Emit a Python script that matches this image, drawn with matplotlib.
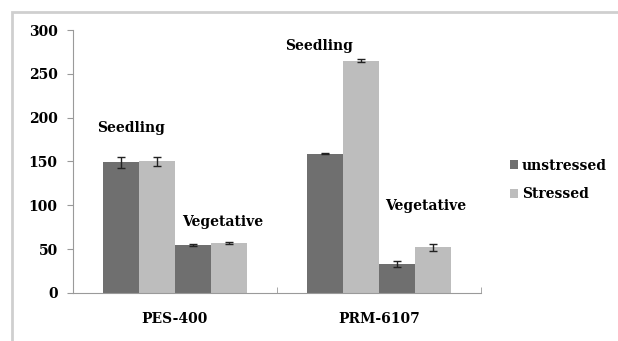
import numpy as np
import matplotlib.pyplot as plt
from matplotlib.patches import Rectangle

# Genotypes and growth stages
genotypes = ["PES-400", "PRM-6107"]
stages = ["Seedling", "Vegetative"]

# Mean values: [seedling, vegetative] for each genotype
unstressed_seedling = [149, 159]
stressed_seedling = [150, 265]
unstressed_veg = [55, 33]
stressed_veg = [57, 52]

# Standard errors
err_unstressed_seedling = [6, 0.5]
err_stressed_seedling = [5, 2]
err_unstressed_veg = [1, 3]
err_stressed_veg = [1, 4]

dark = "#6f6f6f"
light = "#bdbdbd"

plt.rcParams["font.family"] = ["DejaVu Serif"]
plt.rcParams["font.weight"] = "bold"

fig = plt.figure(figsize=(6.18, 3.41), dpi=100)
ax = fig.add_axes([0.118, 0.141, 0.660, 0.771])

# outer frame around the chart
fig.patches.append(Rectangle((0.019, -0.05), 1.0, 1.015, transform=fig.transFigure,
                             fill=False, edgecolor="#cfcfcf", linewidth=2))

x = np.arange(len(genotypes))
w = 0.176
ekw = dict(ecolor="#222222", elinewidth=1, capsize=3, capthick=1)

ax.bar(x - 1.5 * w, unstressed_seedling, w, color=dark, yerr=err_unstressed_seedling,
       error_kw=ekw, label="unstressed")
ax.bar(x - 0.5 * w, stressed_seedling, w, color=light, yerr=err_stressed_seedling,
       error_kw=ekw, label="Stressed")
ax.bar(x + 0.5 * w, unstressed_veg, w, color=dark, yerr=err_unstressed_veg, error_kw=ekw)
ax.bar(x + 1.5 * w, stressed_veg, w, color=light, yerr=err_stressed_veg, error_kw=ekw)

# stage labels above the bars (x offset, y in data units)
seedling_pos = [(-2.17 * w, 188), (-2.6 * w, 282)]
veg_pos = [(0.2 * w, 81), (0.17 * w, 99)]
for i in range(len(genotypes)):
    dx, y = seedling_pos[i]
    ax.text(x[i] + dx, y, stages[0], ha="left", va="center", fontsize=10)
    dx, y = veg_pos[i]
    ax.text(x[i] + dx, y, stages[1], ha="left", va="center", fontsize=10)

ax.set_xlim(-0.5, 1.5)
ax.set_ylim(0, 300)
ax.set_yticks(range(0, 301, 50))
ax.set_xticks(x)
ax.set_xticklabels(genotypes)
ax.set_xticks([-0.5, 0.5, 1.5], minor=True)
ax.tick_params(axis="x", which="major", length=0, pad=14, labelsize=10)
ax.tick_params(axis="x", which="minor", length=4, color="#999999", direction="in")
ax.tick_params(axis="y", length=4, color="#999999", labelsize=10, pad=7)
for lbl in ax.get_xticklabels() + ax.get_yticklabels():
    lbl.set_fontweight("bold")

for side in ["top", "right"]:
    ax.spines[side].set_visible(False)
for side in ["left", "bottom"]:
    ax.spines[side].set_color("#9a9a9a")

ax.legend(loc="center left", bbox_to_anchor=(1.04, 0.43), frameon=False,
          handlelength=0.6, handleheight=0.6, handletextpad=0.3,
          labelspacing=1.05, prop={"weight": "bold", "size": 10})

fig.savefig("out.png", dpi=100)
